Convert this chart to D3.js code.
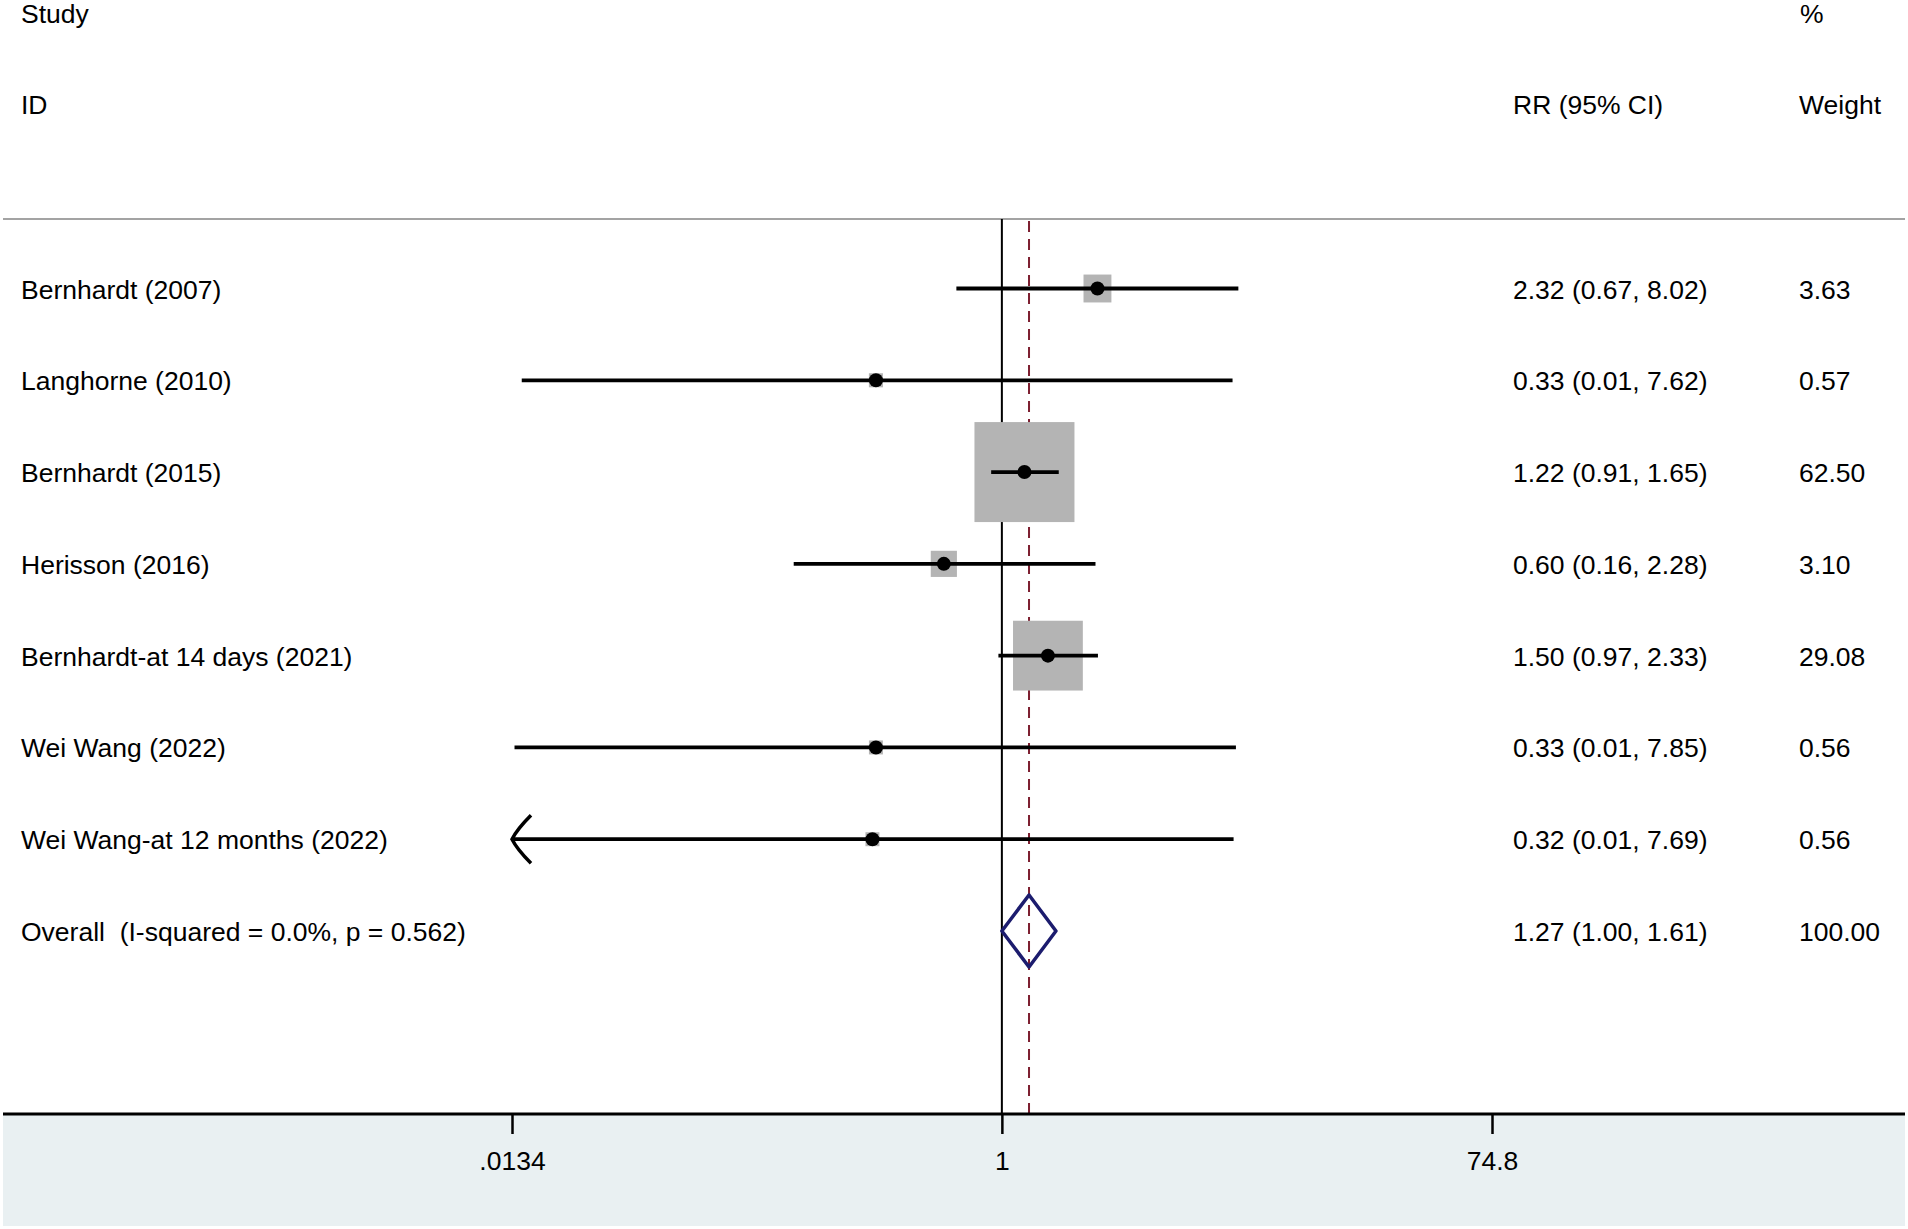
<!DOCTYPE html>
<html>
<head>
<meta charset="utf-8">
<script src="https://cdn.jsdelivr.net/npm/d3@7"></script>
<style>
  html, body { margin: 0; padding: 0; background: #fff; }
  svg { display: block; }
  text { font-family: "Liberation Sans", Arial, Helvetica, sans-serif; font-size: 26.5px; fill: #000; white-space: pre; }
</style>
</head>
<body>
<svg id="chart" width="1908" height="1229"></svg>
<script>
// ---- data ----
const studies = ["Bernhardt (2007)", "Langhorne (2010)", "Bernhardt (2015)", "Herisson (2016)",
                 "Bernhardt-at 14 days (2021)", "Wei Wang (2022)", "Wei Wang-at 12 months (2022)"];
const rr      = [2.32, 0.33, 1.22, 0.60, 1.50, 0.33, 0.32];
const ciLow   = [0.67, 0.0146, 0.91, 0.16, 0.97, 0.0137, 0.010];
const ciHigh  = [8.02, 7.62, 1.65, 2.28, 2.33, 7.85, 7.69];
const rrText  = ["2.32 (0.67, 8.02)", "0.33 (0.01, 7.62)", "1.22 (0.91, 1.65)", "0.60 (0.16, 2.28)",
                 "1.50 (0.97, 2.33)", "0.33 (0.01, 7.85)", "0.32 (0.01, 7.69)"];
const weights = [3.63, 0.57, 62.50, 3.10, 29.08, 0.56, 0.56];
const overallLabel = "Overall  (I-squared = 0.0%, p = 0.562)";
const overall = { rr: 1.27, lo: 1.00, hi: 1.61, text: "1.27 (1.00, 1.61)", weight: 100.00 };
const tickValues = [0.0134, 1, 74.8];
const tickLabels = [".0134", "1", "74.8"];

// ---- layout ----
const W = 1908, H = 1229;
const svg = d3.select("#chart");
const x = d3.scaleLog().domain([0.0134, 74.8]).range([512, 1492]);
const rowIdx = d3.range(studies.length + 1);
const y = d3.scaleLinear().domain([0, studies.length]).range([288.5, 931]);
const boxSide = d3.scaleLinear().domain([0, Math.sqrt(62.5)]).range([5, 100]);

const topLineY = 219, axisY = 1114;
const colLabelX = 21, colRRX = 1513, colWX = 1799;

// bottom panel
svg.append("rect").attr("x", 3).attr("y", axisY + 1).attr("width", 1902).attr("height", 111)
   .attr("fill", "#e9f0f2");

// header texts
svg.append("text").attr("x", colLabelX).attr("y", 23).text("Study");
svg.append("text").attr("x", colLabelX).attr("y", 114).text("ID");
svg.append("text").attr("x", colRRX).attr("y", 114).text("RR (95% CI)");
svg.append("text").attr("x", colWX + 1).attr("y", 23).text("%");
svg.append("text").attr("x", colWX).attr("y", 114).text("Weight");

// top separator
svg.append("line").attr("x1", 3).attr("x2", 1905).attr("y1", topLineY).attr("y2", topLineY)
   .attr("stroke", "#a3a3a3").attr("stroke-width", 2);

// no-effect line
svg.append("line").attr("x1", x(1)).attr("x2", x(1)).attr("y1", topLineY).attr("y2", axisY)
   .attr("stroke", "#000").attr("stroke-width", 2);

// overall dashed line
svg.append("line").attr("x1", x(overall.rr)).attr("x2", x(overall.rr)).attr("y1", topLineY + 2).attr("y2", axisY)
   .attr("stroke", "#7d1f30").attr("stroke-width", 2).attr("stroke-dasharray", "11,7");

const data = studies.map((s, i) => ({ s, i, rr: rr[i], lo: ciLow[i], hi: ciHigh[i], t: rrText[i], w: weights[i] }));
const [xmin, xmax] = x.domain();

// weight boxes
svg.append("g").selectAll("rect").data(data).join("rect")
   .attr("x", d => x(d.rr) - boxSide(Math.sqrt(d.w)) / 2)
   .attr("y", d => y(d.i) - boxSide(Math.sqrt(d.w)) / 2)
   .attr("width", d => boxSide(Math.sqrt(d.w)))
   .attr("height", d => boxSide(Math.sqrt(d.w)))
   .attr("fill", "#b4b4b4");

// CI lines
svg.append("g").selectAll("line").data(data).join("line")
   .attr("x1", d => x(Math.max(d.lo, xmin)))
   .attr("x2", d => x(Math.min(d.hi, xmax)))
   .attr("y1", d => y(d.i)).attr("y2", d => y(d.i))
   .attr("stroke", "#000").attr("stroke-width", 3.8);

// arrows where CI is clipped
svg.append("g").selectAll("path").data(data.filter(d => d.lo < xmin)).join("path")
   .attr("d", d => {
     const x0 = x(xmin), yy = y(d.i);
     return `M${x0 + 19},${yy - 24} Q${x0 + 5},${yy - 10} ${x0},${yy} Q${x0 + 5},${yy + 10} ${x0 + 19},${yy + 24}`;
   })
   .attr("fill", "none").attr("stroke", "#000").attr("stroke-width", 3.5);

// point estimates
svg.append("g").selectAll("circle").data(data).join("circle")
   .attr("cx", d => x(d.rr)).attr("cy", d => y(d.i)).attr("r", 7).attr("fill", "#000");

// overall diamond
const oy = y(studies.length), dh = 36;
svg.append("path")
   .attr("d", `M${x(overall.lo)},${oy} L${x(overall.rr)},${oy - dh} L${x(overall.hi)},${oy} L${x(overall.rr)},${oy + dh} Z`)
   .attr("fill", "none").attr("stroke", "#1c1c6e").attr("stroke-width", 3.5).attr("stroke-linejoin", "round");

// row texts
const labels = studies.concat([overallLabel]);
const rrs = rrText.concat([overall.text]);
const ws = weights.concat([overall.weight]);
svg.append("g").selectAll("text").data(rowIdx).join("text")
   .attr("x", colLabelX).attr("y", i => y(i) + 10).text(i => labels[i]);
svg.append("g").selectAll("text").data(rowIdx).join("text")
   .attr("x", colRRX).attr("y", i => y(i) + 10).text(i => rrs[i]);
svg.append("g").selectAll("text").data(rowIdx).join("text")
   .attr("x", colWX).attr("y", i => y(i) + 10).text(i => ws[i].toFixed(2));

// x axis
svg.append("line").attr("x1", 3).attr("x2", 1905).attr("y1", axisY).attr("y2", axisY)
   .attr("stroke", "#000").attr("stroke-width", 3);
const axis = d3.axisBottom(x).tickValues(tickValues)
   .tickFormat((d, i) => tickLabels[i]).tickSize(20).tickPadding(17);
const ag = svg.append("g").attr("transform", `translate(0,${axisY})`).call(axis);
ag.select(".domain").remove();
ag.selectAll(".tick line").attr("stroke", "#000").attr("stroke-width", 2.5);
ag.selectAll(".tick text").attr("font-size", 26.5).attr("font-family", "Liberation Sans, Arial, sans-serif")
  .attr("fill", "#000").attr("dy", "0.71em");
</script>
</body>
</html>
